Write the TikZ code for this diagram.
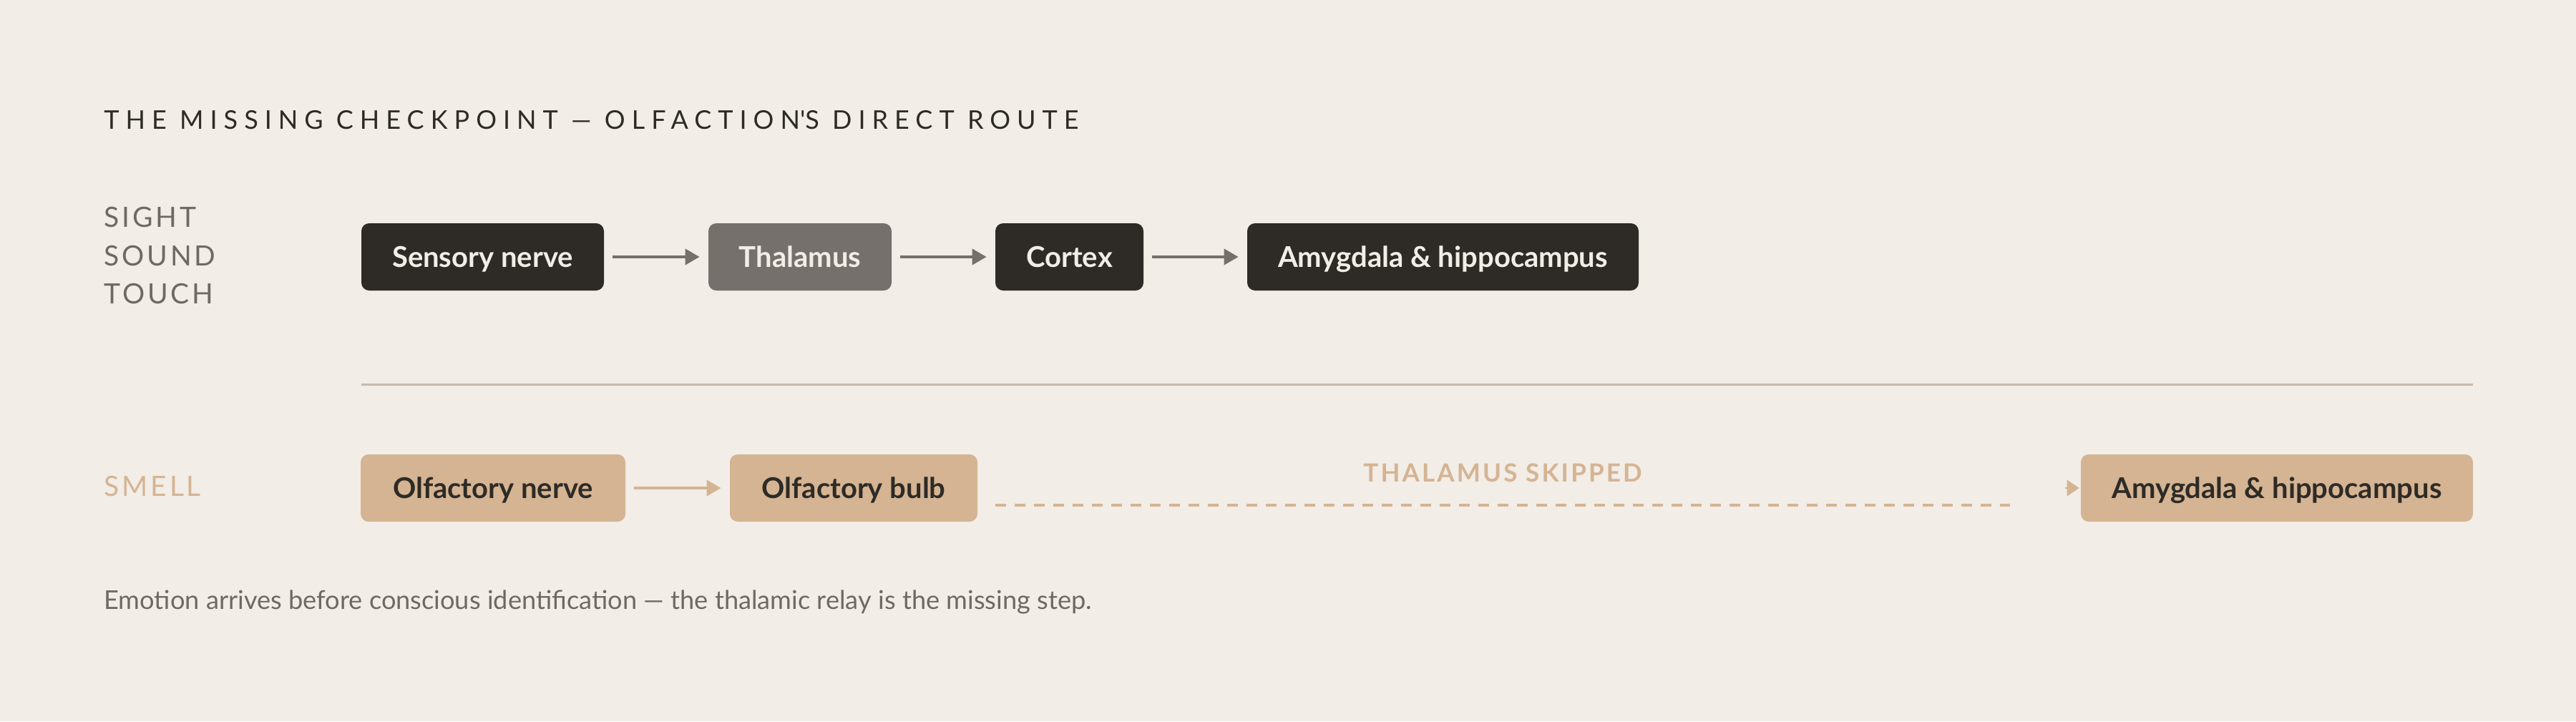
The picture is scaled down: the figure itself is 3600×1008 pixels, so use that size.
\documentclass[tikz,border=0pt]{standalone}
\usepackage{fontspec}
\setmainfont{Lato}
\newfontfamily\titlefont[LetterSpace=25]{Lato}
\newfontfamily\sidefont[LetterSpace=10]{Lato}
\newfontfamily\skipfont[LetterSpace=9]{Lato}
\usetikzlibrary{arrows.meta}
\definecolor{bg}{HTML}{F2EDE7}
\definecolor{ink}{HTML}{2E2B26}
\definecolor{mid}{HTML}{75706B}
\definecolor{tan}{HTML}{D5B493}
\definecolor{rulec}{HTML}{C8BAAA}
\definecolor{capc}{HTML}{6E6964}
\tikzset{
  box/.style={rounded corners=5.5pt, minimum height=47pt, inner sep=0pt,
    text height=14.3pt, text depth=0pt,
    font=\bfseries\fontsize{20pt}{20pt}\selectfont},
  darkbox/.style={box, fill=ink, text=bg},
  midbox/.style={box, fill=mid, text=bg},
  tanbox/.style={box, fill=tan, text=ink},
  garrow/.style={draw=mid, line width=2pt, shorten <=6pt, shorten >=6pt,
    -{Triangle[length=10pt,width=11pt]}},
  tarrow/.style={draw=tan, line width=2pt, shorten <=6pt, shorten >=6pt,
    -{Triangle[length=10pt,width=11pt]}},
  sidelabel/.style={anchor=base west, inner sep=0pt, text=capc,
    font=\sidefont\fontsize{19.5pt}{19.5pt}\selectfont},
}
\begin{document}
\begin{tikzpicture}[x=0.5pt,y=-0.5pt]
\fill[bg] (0,0) rectangle (3600,1008);
\useasboundingbox (0,0) rectangle (3600,1008);

\node[anchor=base west, inner sep=0pt, text=ink,
  font=\titlefont\fontsize{18pt}{18pt}\selectfont] (title) at (145,180)
  {THE MISSING CHECKPOINT — OLFACTION\textquotesingle S DIRECT ROUTE};

\node[sidelabel] (sight) at (145,317) {SIGHT};
\node[sidelabel] (sound) at (145,371) {SOUND};
\node[sidelabel] (touch) at (145,424) {TOUCH};

\node[darkbox, minimum width=169.5pt] (sn) at (674.5,359) {Sensory nerve};
\node[midbox, minimum width=128pt] (th) at (1118,359) {Thalamus};
\node[darkbox, minimum width=103.5pt] (cx) at (1494.5,359) {Cortex};
\node[darkbox, minimum width=273.5pt] (am) at (2016.5,359) {Amygdala \& hippocampus};

\draw[garrow] (sn.east) -- (th.west);
\draw[garrow] (th.east) -- (cx.west);
\draw[garrow] (cx.east) -- (am.west);

\coordinate (rl) at (505,537);
\coordinate (rr) at (3456,537);
\draw[rulec, line width=1.5pt] (rl) -- (rr);

\node[sidelabel, text=tan] (smell) at (145,693) {SMELL};

\node[tanbox, minimum width=185pt] (on) at (689,682) {Olfactory nerve};
\node[tanbox, minimum width=173pt] (ob) at (1193,682) {Olfactory bulb};
\node[tanbox, minimum width=274pt] (am2) at (3182,682) {Amygdala \& hippocampus};

\draw[tarrow] (on.east) -- (ob.west);

\coordinate (ds) at (1391,706);
\coordinate (de) at (2809,706);
\draw[tan, line width=2.25pt, dash pattern=on 7.5pt off 6pt] (ds) -- (de);

\node[anchor=base, inner sep=0pt, text=tan,
  font=\skipfont\bfseries\fontsize{17.5pt}{17.5pt}\selectfont] (skip) at (2100,673)
  {THALAMUS SKIPPED};

\coordinate (sa) at (2886,682);
\draw[tan, line width=0.6pt, shorten >=1pt,
  -{Triangle[length=8.5pt,width=11.5pt]}] (sa) -- (am2.west);

\node[anchor=base west, inner sep=0pt, text=capc,
  font=\fontsize{18.1pt}{18.1pt}\selectfont] (note) at (145,851)
  {Emotion arrives before conscious identification — the thalamic relay is the missing step.};
\end{tikzpicture}
\end{document}
